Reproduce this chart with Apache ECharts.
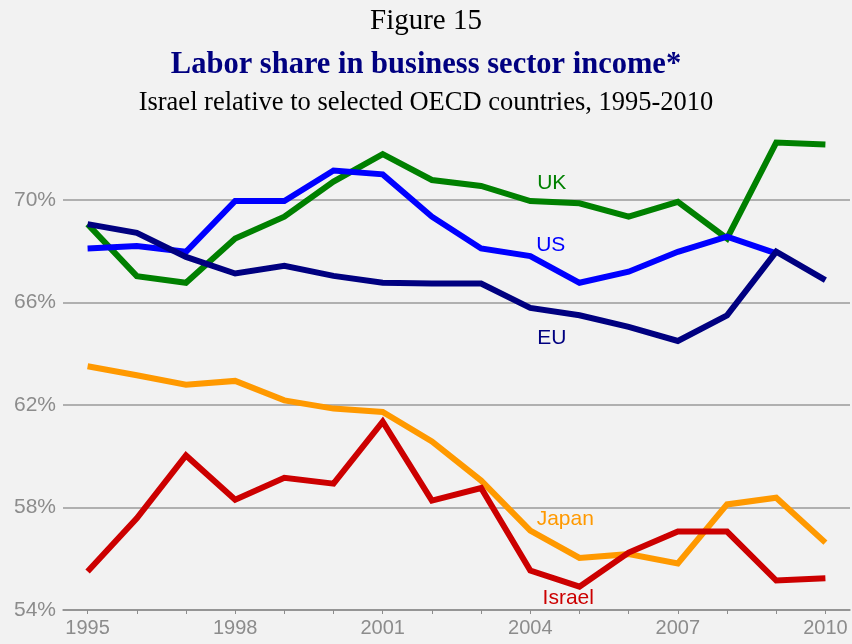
<!DOCTYPE html>
<html>
<head>
<meta charset="utf-8">
<script src="https://cdn.jsdelivr.net/npm/echarts@6/dist/echarts.min.js"></script>
<style>
  html, body { margin: 0; padding: 0; background: #f2f2f2; }
  #chart { width: 852px; height: 644px; }
</style>
</head>
<body>
<div id="chart"></div>
<script>
// Years on the category axis
const years = ['1995','1996','1997','1998','1999','2000','2001','2002','2003','2004','2005','2006','2007','2008','2009','2010'];

// Labor share of business sector income, percent
const uk     = [69.06, 67.03, 66.77, 68.50, 69.35, 70.72, 71.79, 70.78, 70.55, 69.96, 69.87, 69.35, 69.93, 68.50, 72.24, 72.17];
const us     = [68.11, 68.20, 67.98, 69.96, 69.96, 71.15, 71.00, 69.35, 68.11, 67.81, 66.77, 67.20, 67.98, 68.57, 67.92, null];
const eu     = [69.06, 68.72, 67.78, 67.13, 67.43, 67.04, 66.77, 66.74, 66.74, 65.79, 65.50, 65.05, 64.50, 65.50, 67.98, 66.87];
const japan  = [63.51, 63.16, 62.79, 62.94, 62.18, 61.86, 61.73, 60.58, 59.05, 57.10, 56.03, 56.18, 55.82, 58.12, 58.38, 56.63];
const israel = [55.50, 57.58, 60.03, 58.30, 59.16, 58.93, 61.35, 58.27, 58.76, 55.54, 54.91, 56.24, 57.06, 57.06, 55.15, 55.24];

// Y axis range and step
const yMin = 54, yMax = 74, yStep = 4;

const sansFont = 'Arial, "Liberation Sans", sans-serif';
const serifFont = '"Times New Roman", "Liberation Serif", serif';

// Series name label anchored at a year and value, nudged right by dx pixels
function nameTag(text, color, year, value, dx) {
  return {
    silent: true,
    symbol: 'circle',
    symbolSize: 1,
    itemStyle: { color: 'rgba(0,0,0,0)' },
    label: { show: true, position: 'inside', offset: [dx, 0], formatter: text,
             color: color, fontSize: 21, fontFamily: sansFont },
    data: [{ coord: [year, value] }]
  };
}

function lineSeries(name, data, color, tag) {
  return {
    name: name,
    type: 'line',
    data: data,
    symbol: 'none',
    lineStyle: { width: 6, color: color, join: 'miter' },
    itemStyle: { color: color },
    connectNulls: false,
    animation: false,
    markPoint: tag
  };
}

const chart = echarts.init(document.getElementById('chart'), null, { renderer: 'canvas' });
chart.setOption({
  backgroundColor: '#f2f2f2',
  animation: false,
  title: [
    { text: 'Figure 15', left: 'center', top: 2,
      textStyle: { fontFamily: serifFont, fontSize: 29, fontWeight: 'normal', color: '#000' } },
    { text: 'Labor share in business sector income*', left: 'center', top: 44.5,
      textStyle: { fontFamily: serifFont, fontSize: 30.5, fontWeight: 'bold', color: '#000080' } },
    { text: 'Israel relative to selected OECD countries, 1995-2010', left: 'center', top: 84.5,
      textStyle: { fontFamily: serifFont, fontSize: 26.5, fontWeight: 'normal', color: '#000' } }
  ],
  grid: { left: 63, right: 2, top: 97.5, bottom: 34, containLabel: false },
  xAxis: {
    type: 'category',
    data: years,
    boundaryGap: true,
    axisLine: { show: true, lineStyle: { color: '#8c8c8c', width: 1.5 } },
    axisTick: { show: true, alignWithLabel: true, interval: 0, length: 4, lineStyle: { color: '#8c8c8c' } },
    axisLabel: { interval: 2, color: '#8c8c8c', fontSize: 20, fontFamily: sansFont, margin: 8 },
    splitLine: { show: false }
  },
  yAxis: {
    type: 'value',
    min: yMin, max: yMax, interval: yStep,
    axisLine: { show: false },
    axisTick: { show: false },
    axisLabel: { color: '#8c8c8c', fontSize: 21, fontFamily: sansFont, margin: 7,
                 formatter: v => v + '%', showMaxLabel: false },
    splitLine: { show: true, showMaxLine: false, lineStyle: { color: '#9a9a9a', width: 1.5 } }
  },
  series: [
    lineSeries('Japan', japan, '#ff9900', nameTag('Japan', '#ff9900', '2004', 57.56, 35)),
    lineSeries('Israel', israel, '#cc0000', nameTag('Israel', '#cc0000', '2004', 54.47, 38)),
    lineSeries('UK', uk, '#008000', nameTag('UK', '#008000', '2004', 70.66, 21.5)),
    lineSeries('US', us, '#0000ff', nameTag('US', '#0000ff', '2004', 68.24, 20.5)),
    lineSeries('EU', eu, '#000080', nameTag('EU', '#000080', '2004', 64.61, 21.5))
  ]
});
</script>
</body>
</html>
